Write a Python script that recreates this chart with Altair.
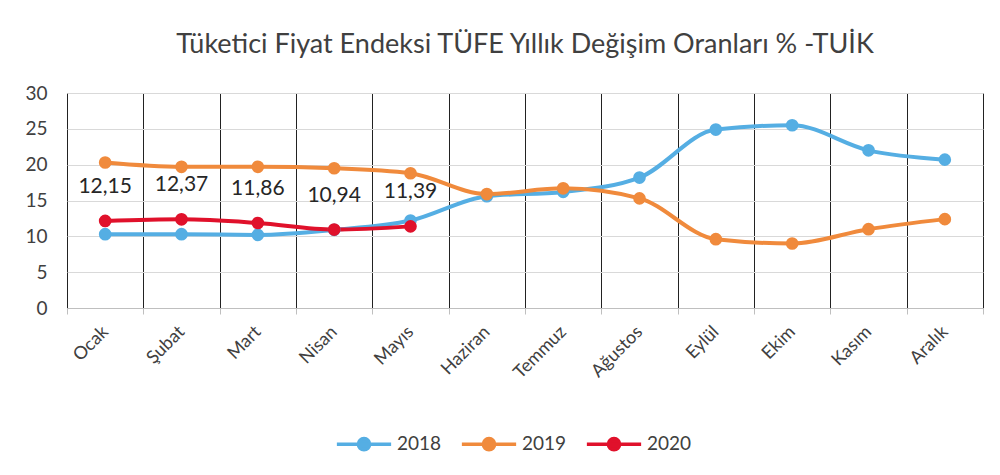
import altair as alt
import pandas as pd

months = ["Ocak", "Şubat", "Mart", "Nisan", "Mayıs", "Haziran", "Temmuz",
          "Ağustos", "Eylül", "Ekim", "Kasım", "Aralık"]
years = ["2018", "2019", "2020"]
v2018 = [10.3, 10.3, 10.2, 10.9, 12.2, 15.6, 16.2, 18.2, 24.9, 25.5, 22.0, 20.7]
v2019 = [20.3, 19.7, 19.7, 19.5, 18.8, 15.9, 16.7, 15.3, 9.6, 9.0, 11.0, 12.4]
v2020 = [12.15, 12.37, 11.86, 10.94, 11.39]
colors = ["#55aee3", "#f08a3c", "#e0112b"]

rows = []
for y, vals in zip(years, [v2018, v2019, v2020]):
    for m, v in zip(months, vals):
        rows.append({"Ay": m, "Yıl": y, "Değer": v,
                     "Etiket": f"{v:.2f}".replace(".", ",")})
df = pd.DataFrame(rows)

font = "Lato"
x = alt.X("Ay:N", sort=months, scale=alt.Scale(type="band", paddingInner=0, paddingOuter=0),
          axis=alt.Axis(title=None, labelAngle=-45, labelAlign="right", labelBaseline="middle",
                        labelFontSize=18, labelColor="#404040", labelFont=font,
                        labelPadding=15, tickBand="extent", tickSize=6, tickColor="#bfbfbf",
                        domainColor="#bfbfbf", grid=True, gridColor="#222222",
                        gridWidth=1))
y = alt.Y("Değer:Q", scale=alt.Scale(domain=[0, 30], nice=False),
          axis=alt.Axis(title=None, values=[0, 5, 10, 15, 20, 25, 30], labelFontSize=19,
                        labelColor="#404040", labelFont=font, labelPadding=20,
                        ticks=False, domain=False, gridColor="#d9d9d9"))
color = alt.Color("Yıl:N", scale=alt.Scale(domain=years, range=colors),
                  legend=alt.Legend(title=None, orient="none", direction="horizontal",
                                    legendX=278, legendY=332, labelFontSize=19,
                                    labelColor="#404040", labelFont=font,
                                    symbolType="M-1.6,0 L1.6,0 M-0.33,0 A0.33,0.33 0 1,0 0.33,0 A0.33,0.33 0 1,0 -0.33,0",
                                    symbolSize=1150, symbolStrokeWidth=3.5, columnPadding=12,
                                    labelOffset=14))

base = alt.Chart(df)
lines = base.mark_line(strokeWidth=4, interpolate="monotone").encode(x=x, y=y, color=color)
points = base.mark_circle(size=160, opacity=1).encode(x=x, y=y, color=color)
labels = base.transform_filter(alt.datum["Yıl"] == "2020").mark_text(
    dy=-34, fontSize=21, font=font, color="#262626").encode(x=x, y=y, text="Etiket:N")

chart = alt.layer(lines, points, labels).properties(
    width=916, height=215,
    title=alt.TitleParams("Tüketici Fiyat Endeksi TÜFE Yıllık Değişim Oranları % -TUİK",
                          fontSize=27, font=font, fontWeight="normal", color="#404040",
                          offset=25, anchor="middle"),
    padding={"left": 59, "top": 85, "right": 9, "bottom": 150},
    autosize=alt.AutoSizeParams(type="none"),
).configure_view(stroke=None).configure(background="white")

chart.save("out.html", embed_options={"renderer": "svg", "actions": False})
